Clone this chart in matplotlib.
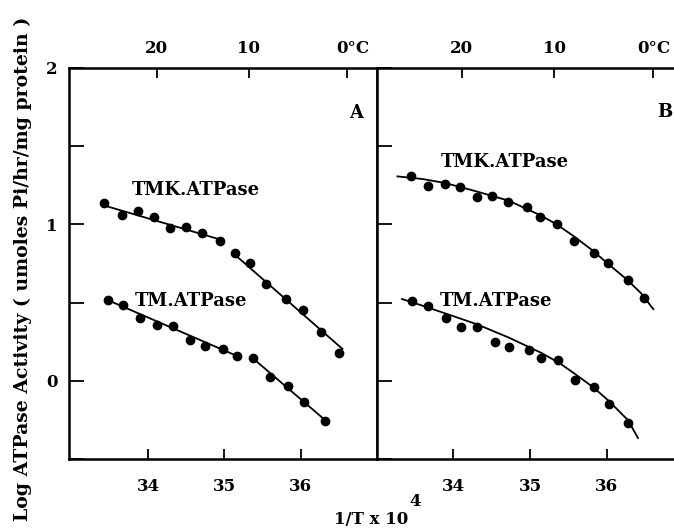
"""Log ATPase activity vs 1/T (Arrhenius plots), panels A and B."""
import matplotlib
matplotlib.use("Agg")
import matplotlib.pyplot as plt
import matplotlib.transforms as mtransforms

FONT = {"family": "DejaVu Serif", "weight": "bold"}

# ---- panel A: points and the two broken straight lines ----
a_tmk_x = [33.42, 33.65, 33.86, 34.08, 34.29, 34.50, 34.71, 34.94,
           35.14, 35.33, 35.55, 35.81, 36.03, 36.27, 36.51]
a_tmk_y = [1.135, 1.06, 1.085, 1.047, 0.974, 0.981, 0.942, 0.893,
           0.814, 0.754, 0.621, 0.525, 0.450, 0.311, 0.178]
a_tmk_line1_x = [33.40, 34.94]
a_tmk_line1_y = [1.124, 0.904]
a_tmk_line2_x = [35.12, 36.55]
a_tmk_line2_y = [0.814, 0.204]

a_tm_x = [33.47, 33.67, 33.89, 34.11, 34.33, 34.55, 34.75, 34.98, 35.16,
          35.38, 35.60, 35.84, 36.05, 36.32]
a_tm_y = [0.514, 0.486, 0.40, 0.358, 0.353, 0.263, 0.225, 0.204, 0.157,
          0.144, 0.022, -0.032, -0.135, -0.257]
a_tm_line1_x = [33.45, 35.16]
a_tm_line1_y = [0.52, 0.16]
a_tm_line2_x = [35.36, 36.32]
a_tm_line2_y = [0.15, -0.25]

# ---- panel B: points and the curved fits ----
b_tmk_x = [33.45, 33.67, 33.89, 34.09, 34.31, 34.51, 34.72, 34.96,
           35.13, 35.35, 35.57, 35.83, 36.02, 36.28, 36.49]
b_tmk_y = [1.307, 1.243, 1.26, 1.236, 1.178, 1.183, 1.146, 1.11,
           1.045, 1.002, 0.894, 0.817, 0.752, 0.647, 0.529]
b_tmk_curve_x = [33.27, 33.60, 33.89, 34.31, 34.72, 35.13, 35.35, 35.57,
                 35.80, 36.02, 36.28, 36.45, 36.61]
b_tmk_curve_y = [1.307, 1.290, 1.265, 1.21, 1.152, 1.06, 1.0, 0.925,
                 0.84, 0.748, 0.641, 0.56, 0.458]

b_tm_x = [33.46, 33.67, 33.90, 34.10, 34.31, 34.54, 34.73, 34.99, 35.15,
          35.36, 35.59, 35.83, 36.03, 36.28]
b_tm_y = [0.512, 0.479, 0.404, 0.344, 0.344, 0.249, 0.217, 0.194, 0.146,
          0.135, 0.006, -0.041, -0.151, -0.269]
b_tm_curve_x = [33.33, 33.60, 33.90, 34.31, 34.73, 35.15, 35.38, 35.59,
                35.83, 36.03, 36.28, 36.41]
b_tm_curve_y = [0.523, 0.48, 0.43, 0.361, 0.275, 0.178, 0.115, 0.043,
                -0.043, -0.129, -0.252, -0.366]

bottom_ticks = [34, 35, 36]
top_ticks_c = [20, 10, 0]
top_labels = ["20", "10", "0°C"]
y_ticks = [-0.5, 0.0, 0.5, 1.0, 1.5, 2.0]
y_labels = ["", "0", "", "1", "", "2"]


def style_axes(ax, xlim, deg_shift):
    ax.set_xlim(*xlim)
    ax.set_ylim(-0.5, 2.0)
    for s in ax.spines.values():
        s.set_linewidth(1.8)
    ax.set_xticks(bottom_ticks)
    ax.set_xticklabels([str(t) for t in bottom_ticks], fontdict=FONT, fontsize=12)
    ax.tick_params(axis="x", direction="in", length=7, width=1.3, pad=14)
    ax.set_yticks(y_ticks)
    ax.tick_params(axis="y", direction="in", length=11, width=1.3, pad=8)
    # temperature scale along the top
    top_pos = [1e4 / (273.15 + c) for c in top_ticks_c]
    top = ax.twiny()
    top.set_xlim(*xlim)
    top.set_xticks(top_pos)
    top.set_xticklabels([])
    top.tick_params(axis="x", direction="in", length=7, width=1.3)
    for s in top.spines.values():
        s.set_visible(False)
    base = mtransforms.blended_transform_factory(ax.transData, ax.transAxes)
    for pos, lab in zip(top_pos, top_labels):
        dx = deg_shift / 100 if lab.endswith("C") else 0
        tr = base + mtransforms.ScaledTranslation(dx, 0, fig.dpi_scale_trans)
        ax.text(pos, 1.051, lab, transform=tr, fontdict=FONT, fontsize=12,
                ha="center", va="center")
    return top


fig = plt.figure(figsize=(6.74, 5.29), dpi=100)
axA = fig.add_axes([69 / 674, 1 - 459 / 529, (376.7 - 69) / 674, (459 - 68) / 529])
axB = fig.add_axes([376.7 / 674, 1 - 459 / 529, (674 - 376.7) / 674, (459 - 68) / 529])

topA = style_axes(axA, (32.96, 37.0), 6)
topB = style_axes(axB, (33.0, 36.88), 1)
axA.set_yticklabels(y_labels, fontdict=FONT, fontsize=12)
axA.tick_params(axis="y", right=False)
axB.set_yticklabels([])
axB.spines["right"].set_visible(False)

mk = dict(marker="o", ms=6, color="black", ls="none")
ln = dict(color="black", lw=1.3)

axA.plot(a_tmk_line1_x, a_tmk_line1_y, **ln)
axA.plot(a_tmk_line2_x, a_tmk_line2_y, **ln)
axA.plot(a_tm_line1_x, a_tm_line1_y, **ln)
axA.plot(a_tm_line2_x, a_tm_line2_y, **ln)
axA.plot(a_tmk_x, a_tmk_y, **mk)
axA.plot(a_tm_x, a_tm_y, **mk)

axB.plot(b_tmk_curve_x, b_tmk_curve_y, **ln)
axB.plot(b_tm_curve_x, b_tm_curve_y, **ln)
axB.plot(b_tmk_x, b_tmk_y, **mk)
axB.plot(b_tm_x, b_tm_y, **mk)

# series labels and panel letters
axA.text(33.78, 1.22, "TMK.ATPase", fontdict=FONT, fontsize=13, va="center")
axA.text(33.82, 0.51, "TM.ATPase", fontdict=FONT, fontsize=13, va="center")
axA.text(36.64, 1.71, "A", fontdict=FONT, fontsize=13, va="center")
axB.text(33.84, 1.40, "TMK.ATPase", fontdict=FONT, fontsize=13, va="center")
axB.text(33.82, 0.51, "TM.ATPase", fontdict=FONT, fontsize=13, va="center")
axB.text(36.66, 1.72, "B", fontdict=FONT, fontsize=13, va="center")

fig.text(23 / 674, 1 - 269 / 529, "Log ATPase Activity ( umoles Pi/hr/mg protein )",
         fontdict=FONT, fontsize=13.6, rotation=90, ha="center", va="center")
fig.text(371 / 674, 1 - 520 / 529, "1/T x 10", fontdict=FONT, fontsize=12,
         ha="center", va="center")
fig.text(415 / 674, 1 - 502 / 529, "4", fontdict=FONT, fontsize=12,
         ha="center", va="center")

fig.savefig("out.png", dpi=100)
